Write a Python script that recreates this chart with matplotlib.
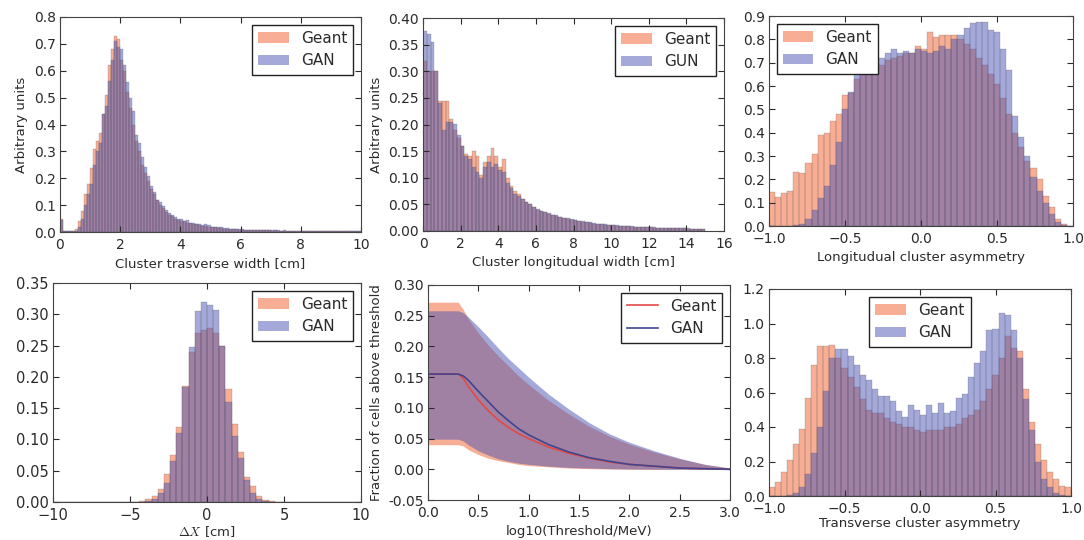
import numpy as np
import matplotlib
matplotlib.use("Agg")
import matplotlib.pyplot as plt
from matplotlib.patches import Patch
from matplotlib.ticker import FormatStrFormatter

# ---- data (bin heights) ----
# cluster transverse width, 100 bins on [0, 10]
tw_geant = [0.047, 0.005, 0.004, 0.004, 0.004, 0.012, 0.04, 0.08, 0.14, 0.18,
            0.24, 0.31, 0.34, 0.37, 0.44, 0.51, 0.62, 0.68, 0.73, 0.72,
            0.64, 0.60, 0.52, 0.46, 0.40, 0.34, 0.30, 0.25, 0.22, 0.19,
            0.16, 0.14, 0.12, 0.10, 0.09, 0.075, 0.065, 0.06, 0.05, 0.045,
            0.04, 0.04, 0.035, 0.032, 0.03, 0.028, 0.025, 0.022, 0.022, 0.02,
            0.018, 0.017, 0.015, 0.014, 0.013, 0.012, 0.011, 0.010, 0.010, 0.009,
            0.009, 0.008, 0.008, 0.007, 0.007, 0.007, 0.006, 0.006, 0.006, 0.006,
            0.005, 0.006, 0.005, 0.005, 0.005, 0.004, 0.005, 0.004, 0.004, 0.004,
            0.004, 0.004, 0.004, 0.003, 0.004, 0.003, 0.003, 0.003, 0.003, 0.003,
            0.003, 0.003, 0.002, 0.003, 0.002, 0.002, 0.002, 0.002, 0.002, 0.002]
tw_gan = [0.045, 0.004, 0.004, 0.003, 0.003, 0.003, 0.02, 0.05, 0.10, 0.14,
          0.18, 0.25, 0.30, 0.33, 0.44, 0.47, 0.56, 0.64, 0.71, 0.69,
          0.68, 0.62, 0.56, 0.50, 0.45, 0.36, 0.33, 0.28, 0.24, 0.21,
          0.17, 0.15, 0.12, 0.11, 0.095, 0.08, 0.07, 0.065, 0.055, 0.05,
          0.048, 0.04, 0.043, 0.035, 0.033, 0.03, 0.028, 0.025, 0.03, 0.025,
          0.02, 0.02, 0.018, 0.017, 0.015, 0.014, 0.013, 0.012, 0.011, 0.011,
          0.01, 0.009, 0.009, 0.008, 0.008, 0.008, 0.007, 0.007, 0.007, 0.006,
          0.006, 0.006, 0.006, 0.005, 0.006, 0.005, 0.005, 0.005, 0.005, 0.004,
          0.005, 0.004, 0.004, 0.004, 0.004, 0.004, 0.003, 0.004, 0.003, 0.003,
          0.003, 0.003, 0.003, 0.003, 0.002, 0.003, 0.002, 0.002, 0.002, 0.002]

# cluster longitudinal width, 75 bins on [0, 15]
lw_geant = [0.32, 0.30, 0.30, 0.30, 0.245, 0.245, 0.245, 0.21, 0.19, 0.175,
            0.16, 0.145, 0.14, 0.15, 0.14, 0.105, 0.13, 0.14, 0.155, 0.14,
            0.12, 0.135, 0.10, 0.085, 0.075, 0.07, 0.06, 0.055, 0.05, 0.045,
            0.04, 0.038, 0.035, 0.032, 0.03, 0.028, 0.026, 0.025, 0.022, 0.02,
            0.02, 0.018, 0.017, 0.016, 0.015, 0.014, 0.013, 0.013, 0.012, 0.011,
            0.011, 0.010, 0.010, 0.009, 0.009, 0.008, 0.008, 0.008, 0.007, 0.007,
            0.007, 0.006, 0.006, 0.006, 0.006, 0.005, 0.005, 0.005, 0.005, 0.005,
            0.004, 0.004, 0.004, 0.004, 0.003]
lw_gan = [0.375, 0.37, 0.355, 0.30, 0.24, 0.19, 0.205, 0.205, 0.20, 0.18,
          0.16, 0.14, 0.135, 0.12, 0.11, 0.10, 0.12, 0.13, 0.12, 0.125,
          0.115, 0.11, 0.09, 0.08, 0.07, 0.065, 0.06, 0.055, 0.05, 0.045,
          0.042, 0.038, 0.036, 0.033, 0.03, 0.03, 0.027, 0.025, 0.024, 0.022,
          0.021, 0.019, 0.018, 0.017, 0.016, 0.015, 0.014, 0.014, 0.013, 0.012,
          0.012, 0.011, 0.010, 0.010, 0.009, 0.009, 0.008, 0.008, 0.008, 0.007,
          0.007, 0.007, 0.006, 0.006, 0.006, 0.006, 0.005, 0.005, 0.005, 0.005,
          0.005, 0.004, 0.004, 0.004, 0.003]

# longitudinal cluster asymmetry, 50 bins on [-1, 1]
la_geant = [0.145, 0.125, 0.14, 0.15, 0.23, 0.225, 0.27, 0.31, 0.39, 0.40,
            0.45, 0.48, 0.56, 0.57, 0.63, 0.65, 0.65, 0.67, 0.69, 0.71,
            0.72, 0.73, 0.74, 0.74, 0.77, 0.76, 0.83, 0.81, 0.82, 0.82,
            0.82, 0.80, 0.78, 0.76, 0.72, 0.69, 0.65, 0.61, 0.55, 0.48,
            0.40, 0.34, 0.28, 0.25, 0.20, 0.13, 0.08, 0.03, 0.01, 0.0]
la_gan = [0.0, 0.0, 0.0, 0.0, 0.003, 0.01, 0.03, 0.07, 0.12, 0.17,
          0.26, 0.36, 0.50, 0.575, 0.66, 0.75, 0.78, 0.78, 0.72, 0.74,
          0.76, 0.74, 0.75, 0.74, 0.76, 0.75, 0.74, 0.75, 0.77, 0.76,
          0.80, 0.82, 0.85, 0.87, 0.875, 0.875, 0.84, 0.83, 0.76, 0.67,
          0.47, 0.38, 0.30, 0.21, 0.15, 0.10, 0.05, 0.015, 0.005, 0.0]

# delta X, 50 bins on [-10, 10]
dx_geant = [0.0] * 14 + [0.001, 0.004, 0.01, 0.02, 0.045, 0.075, 0.12, 0.185, 0.24, 0.27,
                         0.275, 0.278, 0.27, 0.25, 0.18, 0.125, 0.08, 0.04, 0.025, 0.01,
                         0.003, 0.001] + [0.0] * 14
dx_gan = [0.0] * 14 + [0.0, 0.002, 0.005, 0.015, 0.03, 0.065, 0.11, 0.183, 0.248, 0.305,
                       0.32, 0.315, 0.307, 0.25, 0.16, 0.105, 0.07, 0.035, 0.015, 0.005,
                       0.002, 0.0] + [0.0] * 14

# fraction of cells above threshold
thr = [0, 0.1, 0.2, 0.3, 0.35, 0.4, 0.5, 0.6, 0.7, 0.8, 0.9, 1.0,
       1.2, 1.4, 1.6, 1.8, 2.0, 2.25, 2.5, 2.75, 3.0]
frac_geant = [0.155, 0.155, 0.155, 0.155, 0.148, 0.135, 0.113, 0.095, 0.08, 0.068, 0.058,
              0.05, 0.036, 0.026, 0.018, 0.012, 0.008, 0.005, 0.002, 0.001, 0.0]
frac_gan = [0.155, 0.155, 0.155, 0.155, 0.152, 0.145, 0.127, 0.11, 0.093, 0.079, 0.066,
            0.056, 0.04, 0.028, 0.019, 0.013, 0.008, 0.005, 0.002, 0.001, 0.0]
up_geant = [0.272, 0.272, 0.272, 0.272, 0.26, 0.245, 0.222, 0.202, 0.184, 0.168, 0.152,
            0.138, 0.112, 0.09, 0.07, 0.054, 0.041, 0.028, 0.017, 0.008, 0.002]
up_gan = [0.258, 0.258, 0.258, 0.258, 0.255, 0.248, 0.232, 0.215, 0.197, 0.18, 0.165,
          0.15, 0.122, 0.098, 0.076, 0.058, 0.044, 0.03, 0.018, 0.008, 0.002]
lo_geant = [0.04, 0.04, 0.04, 0.04, 0.038, 0.032, 0.024, 0.018, 0.014, 0.011, 0.008,
            0.006, 0.004, 0.002, 0.001, 0.0005, 0, 0, 0, 0, 0]
lo_gan = [0.049, 0.049, 0.049, 0.049, 0.046, 0.04, 0.03, 0.023, 0.017, 0.013, 0.01,
          0.008, 0.005, 0.003, 0.002, 0.001, 0.0005, 0, 0, 0, 0]

# transverse cluster asymmetry, 50 bins on [-1, 1]
ta_geant = [0.05, 0.08, 0.14, 0.21, 0.30, 0.39, 0.57, 0.76, 0.87, 0.87,
            0.875, 0.80, 0.74, 0.69, 0.63, 0.56, 0.50, 0.48, 0.48, 0.45,
            0.43, 0.42, 0.40, 0.40, 0.38, 0.37, 0.38, 0.38, 0.38, 0.40,
            0.40, 0.42, 0.45, 0.47, 0.50, 0.55, 0.62, 0.70, 0.80, 0.93,
            0.86, 0.84, 0.62, 0.43, 0.30, 0.21, 0.14, 0.10, 0.06, 0.05]
ta_gan = [0.0, 0.0, 0.0, 0.005, 0.02, 0.05, 0.13, 0.25, 0.40, 0.61,
          0.80, 0.85, 0.85, 0.81, 0.76, 0.70, 0.67, 0.62, 0.58, 0.58,
          0.55, 0.49, 0.46, 0.53, 0.50, 0.47, 0.53, 0.48, 0.54, 0.48,
          0.49, 0.57, 0.59, 0.69, 0.77, 0.84, 0.96, 0.97, 1.06, 1.05,
          0.96, 0.80, 0.56, 0.38, 0.20, 0.10, 0.05, 0.02, 0.005, 0.0]

c_geant = '#F05F2A'
c_gan = '#4A55B5'

plt.rcParams['font.family'] = 'DejaVu Sans'
plt.rcParams['font.size'] = 9.5
plt.rcParams['mathtext.fontset'] = 'cm'
plt.rcParams['text.color'] = '#2a2a2a'
plt.rcParams['axes.labelcolor'] = '#2a2a2a'
plt.rcParams['xtick.color'] = '#2a2a2a'
plt.rcParams['ytick.color'] = '#2a2a2a'

fig = plt.figure(figsize=(10.84, 5.4), dpi=100)
W, H = 1084.0, 540.0


def make_ax(left, right, top, bottom, tsize=10):
    ax = fig.add_axes([left / W, 1 - bottom / H, (right - left) / W, (bottom - top) / H])
    ax.tick_params(direction='in', top=True, right=True, length=4, labelsize=tsize, pad=3)
    ax.tick_params(axis='x', pad=4)
    for s in ax.spines.values():
        s.set_color('#444444')
    return ax


def hist_pair(ax, lo, hi, geant, gan):
    edges = np.linspace(lo, hi, len(geant) + 1)
    centers = (edges[:-1] + edges[1:]) / 2
    ax.hist(centers, bins=edges, weights=geant, facecolor=c_geant, alpha=0.5,
            edgecolor='#555555', linewidth=0.3)
    ax.hist(centers, bins=edges, weights=gan, facecolor=c_gan, alpha=0.5,
            edgecolor='#555555', linewidth=0.3)


def legend(ax, loc, lab2='GAN', handles=None):
    if handles is None:
        handles = [Patch(facecolor=c_geant, alpha=0.5, edgecolor='none', label='Geant'),
                   Patch(facecolor=c_gan, alpha=0.5, edgecolor='none', label=lab2)]
    leg = ax.legend(handles=handles, loc=loc, fontsize=11, fancybox=False,
                    borderaxespad=0.5, handletextpad=0.8, labelspacing=0.5)
    leg.get_frame().set_edgecolor('#222222')
    leg.get_frame().set_linewidth(1.0)
    leg.get_frame().set_alpha(1)


# top-left
ax = make_ax(60, 361, 17, 232)
hist_pair(ax, 0, 10, tw_geant, tw_gan)
ax.set_xlim(0, 10)
ax.set_ylim(0, 0.8)
ax.set_xticks([0, 2, 4, 6, 8, 10])
ax.set_yticks(np.arange(0, 0.81, 0.1))
ax.yaxis.set_major_formatter(FormatStrFormatter('%.1f'))
ax.set_xlabel('Cluster trasverse width [cm]')
ax.set_ylabel('Arbitrary units')
legend(ax, 'upper right')

# top-middle
ax = make_ax(423, 724, 18, 231)
hist_pair(ax, 0, 15, lw_geant, lw_gan)
ax.set_xlim(0, 16)
ax.set_ylim(0, 0.40)
ax.set_xticks(range(0, 17, 2))
ax.set_yticks(np.arange(0, 0.401, 0.05))
ax.yaxis.set_major_formatter(FormatStrFormatter('%.2f'))
ax.set_xlabel('Cluster longitudual width [cm]')
ax.set_ylabel('Arbitrary units')
legend(ax, 'upper right', lab2='GUN')

# top-right
ax = make_ax(769, 1073, 16, 226)
hist_pair(ax, -1, 1, la_geant, la_gan)
ax.set_xlim(-1, 1)
ax.set_ylim(0, 0.9)
ax.set_xticks([-1.0, -0.5, 0.0, 0.5, 1.0])
ax.set_yticks(np.arange(0, 0.91, 0.1))
ax.yaxis.set_major_formatter(FormatStrFormatter('%.1f'))
ax.set_xlabel('Longitudual cluster asymmetry')
legend(ax, 'upper left')

# bottom-left
ax = make_ax(53, 361, 283, 502, tsize=10.5)
hist_pair(ax, -10, 10, dx_geant, dx_gan)
ax.set_xlim(-10, 10)
ax.set_ylim(0, 0.35)
ax.set_xticks([-10, -5, 0, 5, 10])
ax.set_yticks(np.arange(0, 0.351, 0.05))
ax.yaxis.set_major_formatter(FormatStrFormatter('%.2f'))
ax.set_xlabel(r'$\Delta X$ [cm]', labelpad=1)
legend(ax, 'upper right')

# bottom-middle
ax = make_ax(428, 730, 285, 500)
ax.fill_between(thr, lo_geant, up_geant, color=c_geant, alpha=0.5, linewidth=0)
ax.fill_between(thr, lo_gan, up_gan, color=c_gan, alpha=0.5, linewidth=0)
l1, = ax.plot(thr, frac_geant, color='#E24A45', linewidth=1.2, label='Geant')
l2, = ax.plot(thr, frac_gan, color='#41458F', linewidth=1.2, label='GAN')
ax.set_xlim(0, 3)
ax.set_ylim(-0.05, 0.30)
ax.set_xticks(np.arange(0, 3.01, 0.5))
ax.set_yticks(np.arange(-0.05, 0.301, 0.05))
ax.yaxis.set_major_formatter(FormatStrFormatter('%.2f'))
ax.set_xlabel('log10(Threshold/MeV)')
ax.set_ylabel('Fraction of cells above threshold')
legend(ax, 'upper right', handles=[l1, l2])

# bottom-right
ax = make_ax(769, 1071, 289, 496)
hist_pair(ax, -1, 1, ta_geant, ta_gan)
ax.set_xlim(-1, 1)
ax.set_ylim(0, 1.2)
ax.set_xticks([-1.0, -0.5, 0.0, 0.5, 1.0])
ax.set_yticks(np.arange(0, 1.21, 0.2))
ax.yaxis.set_major_formatter(FormatStrFormatter('%.1f'))
ax.set_xlabel('Transverse cluster asymmetry', labelpad=1)
legend(ax, 'upper center')

fig.savefig('out.png', dpi=100, facecolor='white')
